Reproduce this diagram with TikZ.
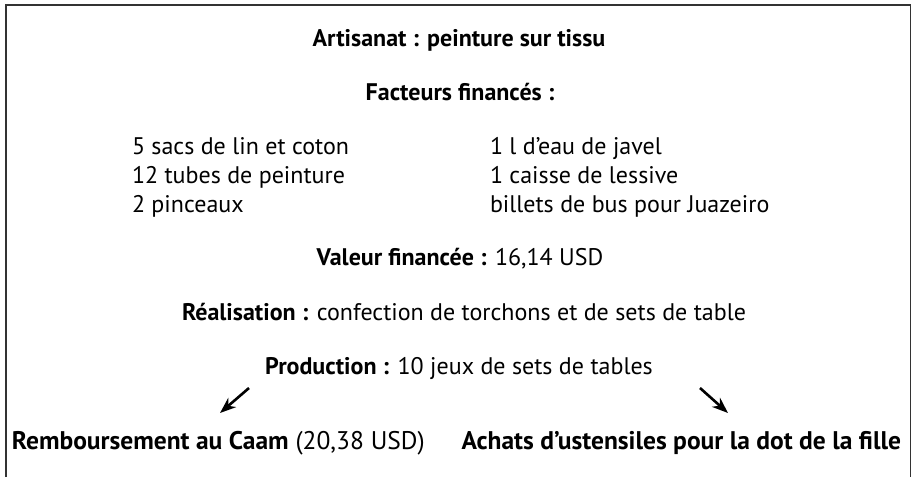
\documentclass[tikz,border=0pt]{standalone}
\usepackage{fontspec}
\setmainfont{PT Sans}
\usetikzlibrary{arrows.meta}
\begin{document}
\begin{tikzpicture}[x=1pt,y=-1pt,
  txt/.style={inner sep=0pt,outer sep=0pt,font=\fontsize{24}{28}\selectfont,text=black},
  big/.style={font=\fontsize{25.5}{30}\selectfont},
  ctr/.style={txt,anchor=base},
  lft/.style={txt,anchor=base west},
  frame/.style={line width=1.6pt,draw=black!80},
  arr/.style={line width=2.6pt,draw=black,-{Stealth[length=16pt,width=12pt,inset=5pt]}}]
\useasboundingbox (0,0) rectangle (912,477);
\draw[frame] (6,477) -- (6,5) -- (910.5,5) -- (910.5,477);
\node[ctr] (title) at (459,46) {\textbf{Artisanat : peinture sur tissu}};
\node[ctr] (fact) at (460,100) {\textbf{Facteurs financés :}};
\node[lft] (l1) at (132,154) {5 sacs de lin et coton};
\node[lft] (l2) at (132,183) {12 tubes de peinture};
\node[lft] (l3) at (132,212) {2 pinceaux};
\node[lft] (r1) at (490,154) {1 l d’eau de javel};
\node[lft] (r2) at (490,183) {1 caisse de lessive};
\node[lft] (r3) at (490,212) {billets de bus pour Juazeiro};
\node[ctr] (val) at (460,265) {\textbf{Valeur financée :} 16,14 USD};
\node[ctr] (real) at (464,320) {\textbf{Réalisation :} confection de torchons et de sets de table};
\node[ctr] (prod) at (459,374) {\textbf{Production :} 10 jeux de sets de tables};
\node[lft,big] (remb) at (12,449) {\textbf{Remboursement au Caam} (20,38 USD)};
\node[txt,big,anchor=base east] (achat) at (901,449) {\textbf{Achats d’ustensiles pour la dot de la fille}};
\coordinate (as) at (249,388);
\coordinate (ae) at (220,413);
\coordinate (bs) at (700,388);
\coordinate (be) at (728,413);
\draw[arr] (as) -- (ae);
\draw[arr] (bs) -- (be);
\end{tikzpicture}
\end{document}
